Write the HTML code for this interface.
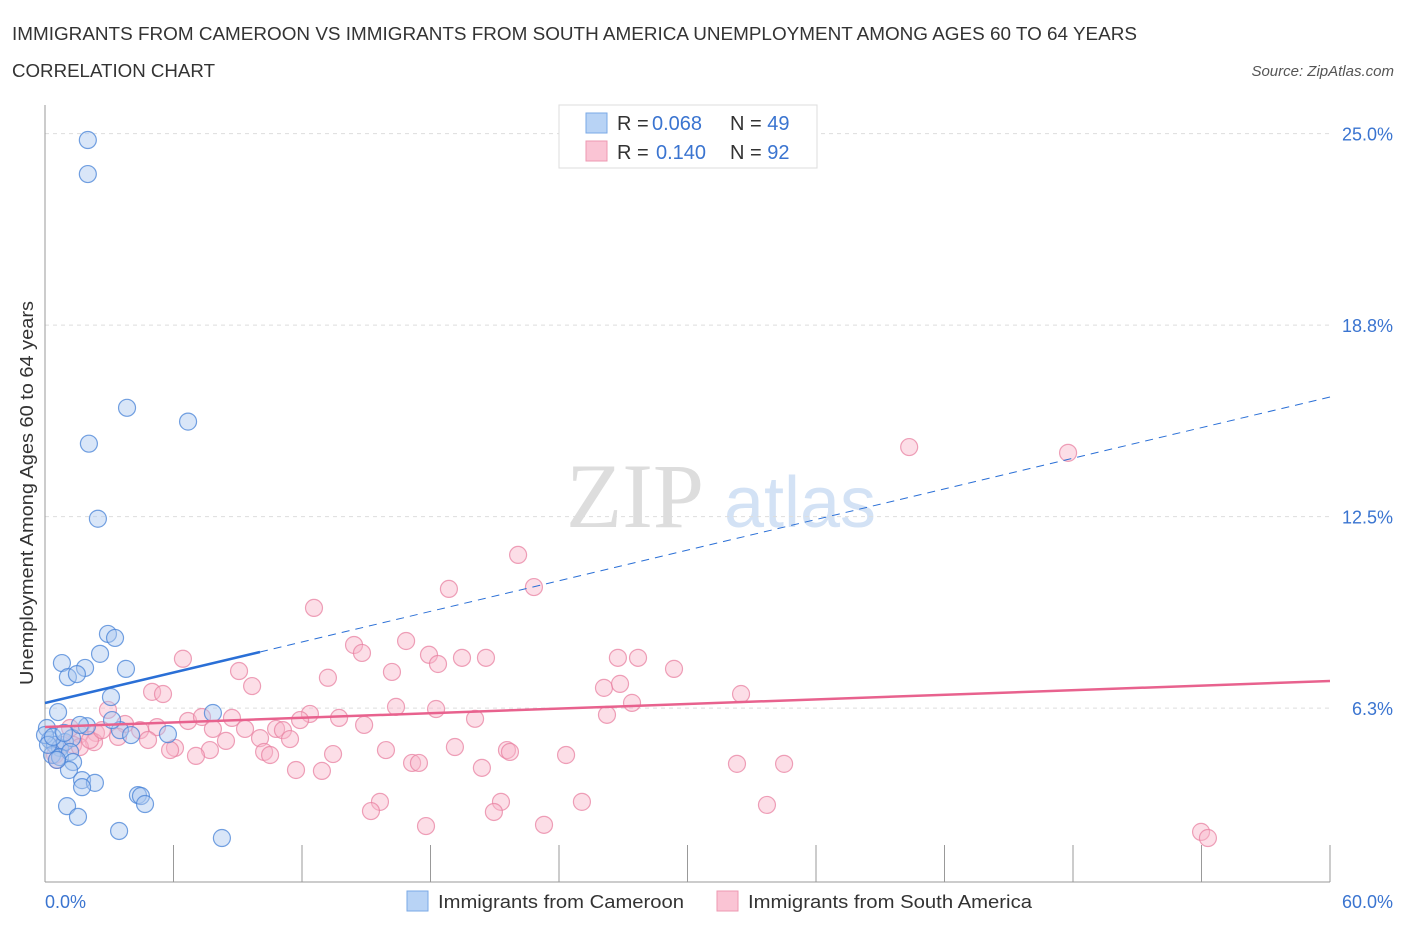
<!DOCTYPE html>
<html><head><meta charset="utf-8"><style>
body{margin:0;background:#fff;font-family:"Liberation Sans",sans-serif;}
#wrap{position:relative;width:1406px;height:930px;overflow:hidden;}
</style></head><body>
<div id="wrap">
<svg id="svg" width="1406" height="930">
<text x="12" y="40" font-size="18" fill="#333" textLength="1125" lengthAdjust="spacingAndGlyphs">IMMIGRANTS FROM CAMEROON VS IMMIGRANTS FROM SOUTH AMERICA UNEMPLOYMENT AMONG AGES 60 TO 64 YEARS</text>
<text x="12" y="77" font-size="18" fill="#333" textLength="203" lengthAdjust="spacingAndGlyphs">CORRELATION CHART</text>
<text x="1394" y="76" font-size="15" fill="#555" font-style="italic" text-anchor="end">Source: ZipAtlas.com</text>
<text x="635" y="527" font-size="92" fill="#ddd" font-family="Liberation Serif" text-anchor="middle">ZIP</text>
<text x="800" y="527" font-size="72" fill="#d3e2f5" text-anchor="middle">atlas</text>
<g id="grid"></g>
<g id="marks"></g>
<text x="33" y="493" font-size="18" fill="#333" text-anchor="middle" textLength="384" lengthAdjust="spacingAndGlyphs" transform="rotate(-90 33 493)">Unemployment Among Ages 60 to 64 years</text>
<text x="45" y="908" font-size="18" fill="#3a74d0">0.0%</text>
<text x="1393" y="908" font-size="18" fill="#3a74d0" text-anchor="end">60.0%</text>
<g>
<rect x="559" y="105" width="258" height="63" fill="#fff" stroke="#ddd"/>
<rect x="586" y="113" width="21" height="20" fill="#b8d3f5" stroke="#7aa8e6"/>
<rect x="586" y="141" width="21" height="20" fill="#fac4d4" stroke="#ee98b2"/>
<text x="617" y="130" font-size="20" fill="#333">R = <tspan fill="#3a74d0" x="652">0.068</tspan><tspan x="730">N = </tspan><tspan fill="#3a74d0">49</tspan></text>
<text x="617" y="159" font-size="20" fill="#333">R = <tspan fill="#3a74d0" x="656">0.140</tspan><tspan x="730">N = </tspan><tspan fill="#3a74d0">92</tspan></text>
</g>
<g>
<rect x="407" y="891" width="21" height="20" fill="#b8d3f5" stroke="#7aa8e6"/>
<text x="438" y="908" font-size="18" fill="#333" textLength="246" lengthAdjust="spacingAndGlyphs">Immigrants from Cameroon</text>
<rect x="717" y="891" width="21" height="20" fill="#fac4d4" stroke="#ee98b2"/>
<text x="748" y="908" font-size="18" fill="#333" textLength="284" lengthAdjust="spacingAndGlyphs">Immigrants from South America</text>
</g>
</svg>
</div>
<script>
const yTicks=[25.0,18.75,12.5,6.25];
const yTickLabels=["25.0%","18.8%","12.5%","6.3%"];
const blueX=[2.0,2.0,3.83,6.68,2.05,2.47,2.94,3.27,0.79,1.87,3.78,2.57,1.07,1.49,3.08,7.84,0.61,5.74,3.5,4.02,0.09,0.23,0.47,0.7,0.93,1.26,1.96,0.33,0.7,1.17,1.31,1.12,1.73,2.33,1.73,1.03,1.54,4.34,4.48,4.67,3.46,8.26,0.0,0.14,0.37,0.56,3.13,0.89,1.63];
const blueY=[24.79,23.68,16.05,15.6,14.88,12.43,8.67,8.54,7.72,7.56,7.53,8.02,7.26,7.36,6.61,6.09,6.12,5.4,5.53,5.37,5.6,5.21,5.05,4.95,5.14,5.27,5.66,4.72,4.65,4.82,4.49,4.23,3.9,3.81,3.67,3.05,2.7,3.41,3.38,3.12,2.24,2.01,5.37,5.05,5.31,4.56,5.86,5.44,5.7];
const pinkX=[40.35,47.77,22.09,18.86,22.83,12.56,16.86,14.43,14.8,17.93,18.35,19.47,20.59,26.75,27.69,29.37,6.44,9.06,16.2,13.21,9.67,26.1,26.85,32.5,5.0,5.51,27.41,16.39,18.26,2.94,12.37,13.73,14.9,20.08,26.24,6.68,8.73,7.33,7.84,10.79,11.11,9.34,3.74,4.44,5.23,11.91,2.38,1.63,1.17,1.31,2.29,3.41,4.81,6.07,7.7,8.45,10.04,11.44,10.23,10.51,5.84,7.05,13.45,15.92,19.14,21.57,21.71,24.33,11.72,12.93,17.14,17.46,20.4,32.31,34.51,15.64,15.22,21.29,20.96,25.07,33.71,17.79,23.3,53.98,54.3,0.47,0.79,1.63,2.1,2.66,0.56];
const pinkY=[14.77,14.58,11.25,10.14,10.2,9.52,8.44,8.31,8.05,7.99,7.69,7.89,7.89,7.89,7.89,7.53,7.86,7.46,7.43,7.24,6.97,6.91,7.04,6.71,6.78,6.71,6.42,6.29,6.22,6.19,6.06,5.93,5.7,5.9,6.03,5.83,5.93,5.96,5.57,5.57,5.53,5.57,5.73,5.53,5.63,5.86,5.44,5.4,5.6,5.05,5.14,5.31,5.21,4.95,4.88,5.18,5.27,5.24,4.82,4.72,4.88,4.69,4.75,4.88,4.98,4.88,4.82,4.72,4.23,4.2,4.46,4.46,4.3,4.43,4.43,3.19,2.89,3.19,2.86,3.19,3.09,2.4,2.44,2.21,2.01,4.72,5.05,4.98,5.21,5.53,4.56];
const X0=45,X1=1330,Y0=899.6,PX_PER=191.5/6.25;
const sx=v=>X0+(v/60)*(X1-X0);
const sy=v=>Y0-v*PX_PER;
const NS="http://www.w3.org/2000/svg";
const grid=document.getElementById('grid'),marks=document.getElementById('marks');
function mk(tag,attrs,parent){const e=document.createElementNS(NS,tag);for(const k in attrs)e.setAttribute(k,attrs[k]);parent.appendChild(e);return e;}
yTicks.forEach((t,i)=>{
 const l=mk('line',{x1:45,x2:1330,y1:sy(t),y2:sy(t),stroke:'#ddd','stroke-dasharray':'4,4'},grid);
 
 
 const tx=mk('text',{x:1393,y:sy(t)+7,'font-size':18,fill:'#3a74d0','text-anchor':'end'},grid);
 tx.textContent=yTickLabels[i];
 
 
});
const ax=mk('line',{x1:45,x2:45,y1:105,y2:882,stroke:'#999'},grid);


const bx=mk('line',{x1:45,x2:1330,y1:882,y2:882,stroke:'#999'},grid);


for(let i=0;i<=10;i++){
 const t=mk('line',{x1:sx(i*6),x2:sx(i*6),y1:882,y2:i==0?882:845,stroke:'#999'},grid);
 
 
}
pinkX.forEach((v,i)=>{
 const c=mk('circle',{cx:sx(v),cy:sy(pinkY[i]),r:8.5,fill:'rgba(248,182,202,0.45)',stroke:'rgba(232,130,162,0.75)','stroke-width':1.2},marks);
 
 
});
blueX.forEach((v,i)=>{
 const c=mk('circle',{cx:sx(v),cy:sy(blueY[i]),r:8.5,fill:'rgba(170,200,240,0.45)',stroke:'rgba(70,130,215,0.75)','stroke-width':1.2},marks);
 
 
});
const b1=mk('line',{x1:45,y1:703,x2:260,y2:652,stroke:'#2a6fd6','stroke-width':2.5},marks);


const b2=mk('line',{x1:260,y1:652,x2:1330,y2:397,stroke:'#2a6fd6','stroke-width':1,'stroke-dasharray':'8,6'},marks);


const p1=mk('line',{x1:45,y1:727,x2:1330,y2:681,stroke:'#e8628e','stroke-width':2.5},marks);


</script>
</body></html>
